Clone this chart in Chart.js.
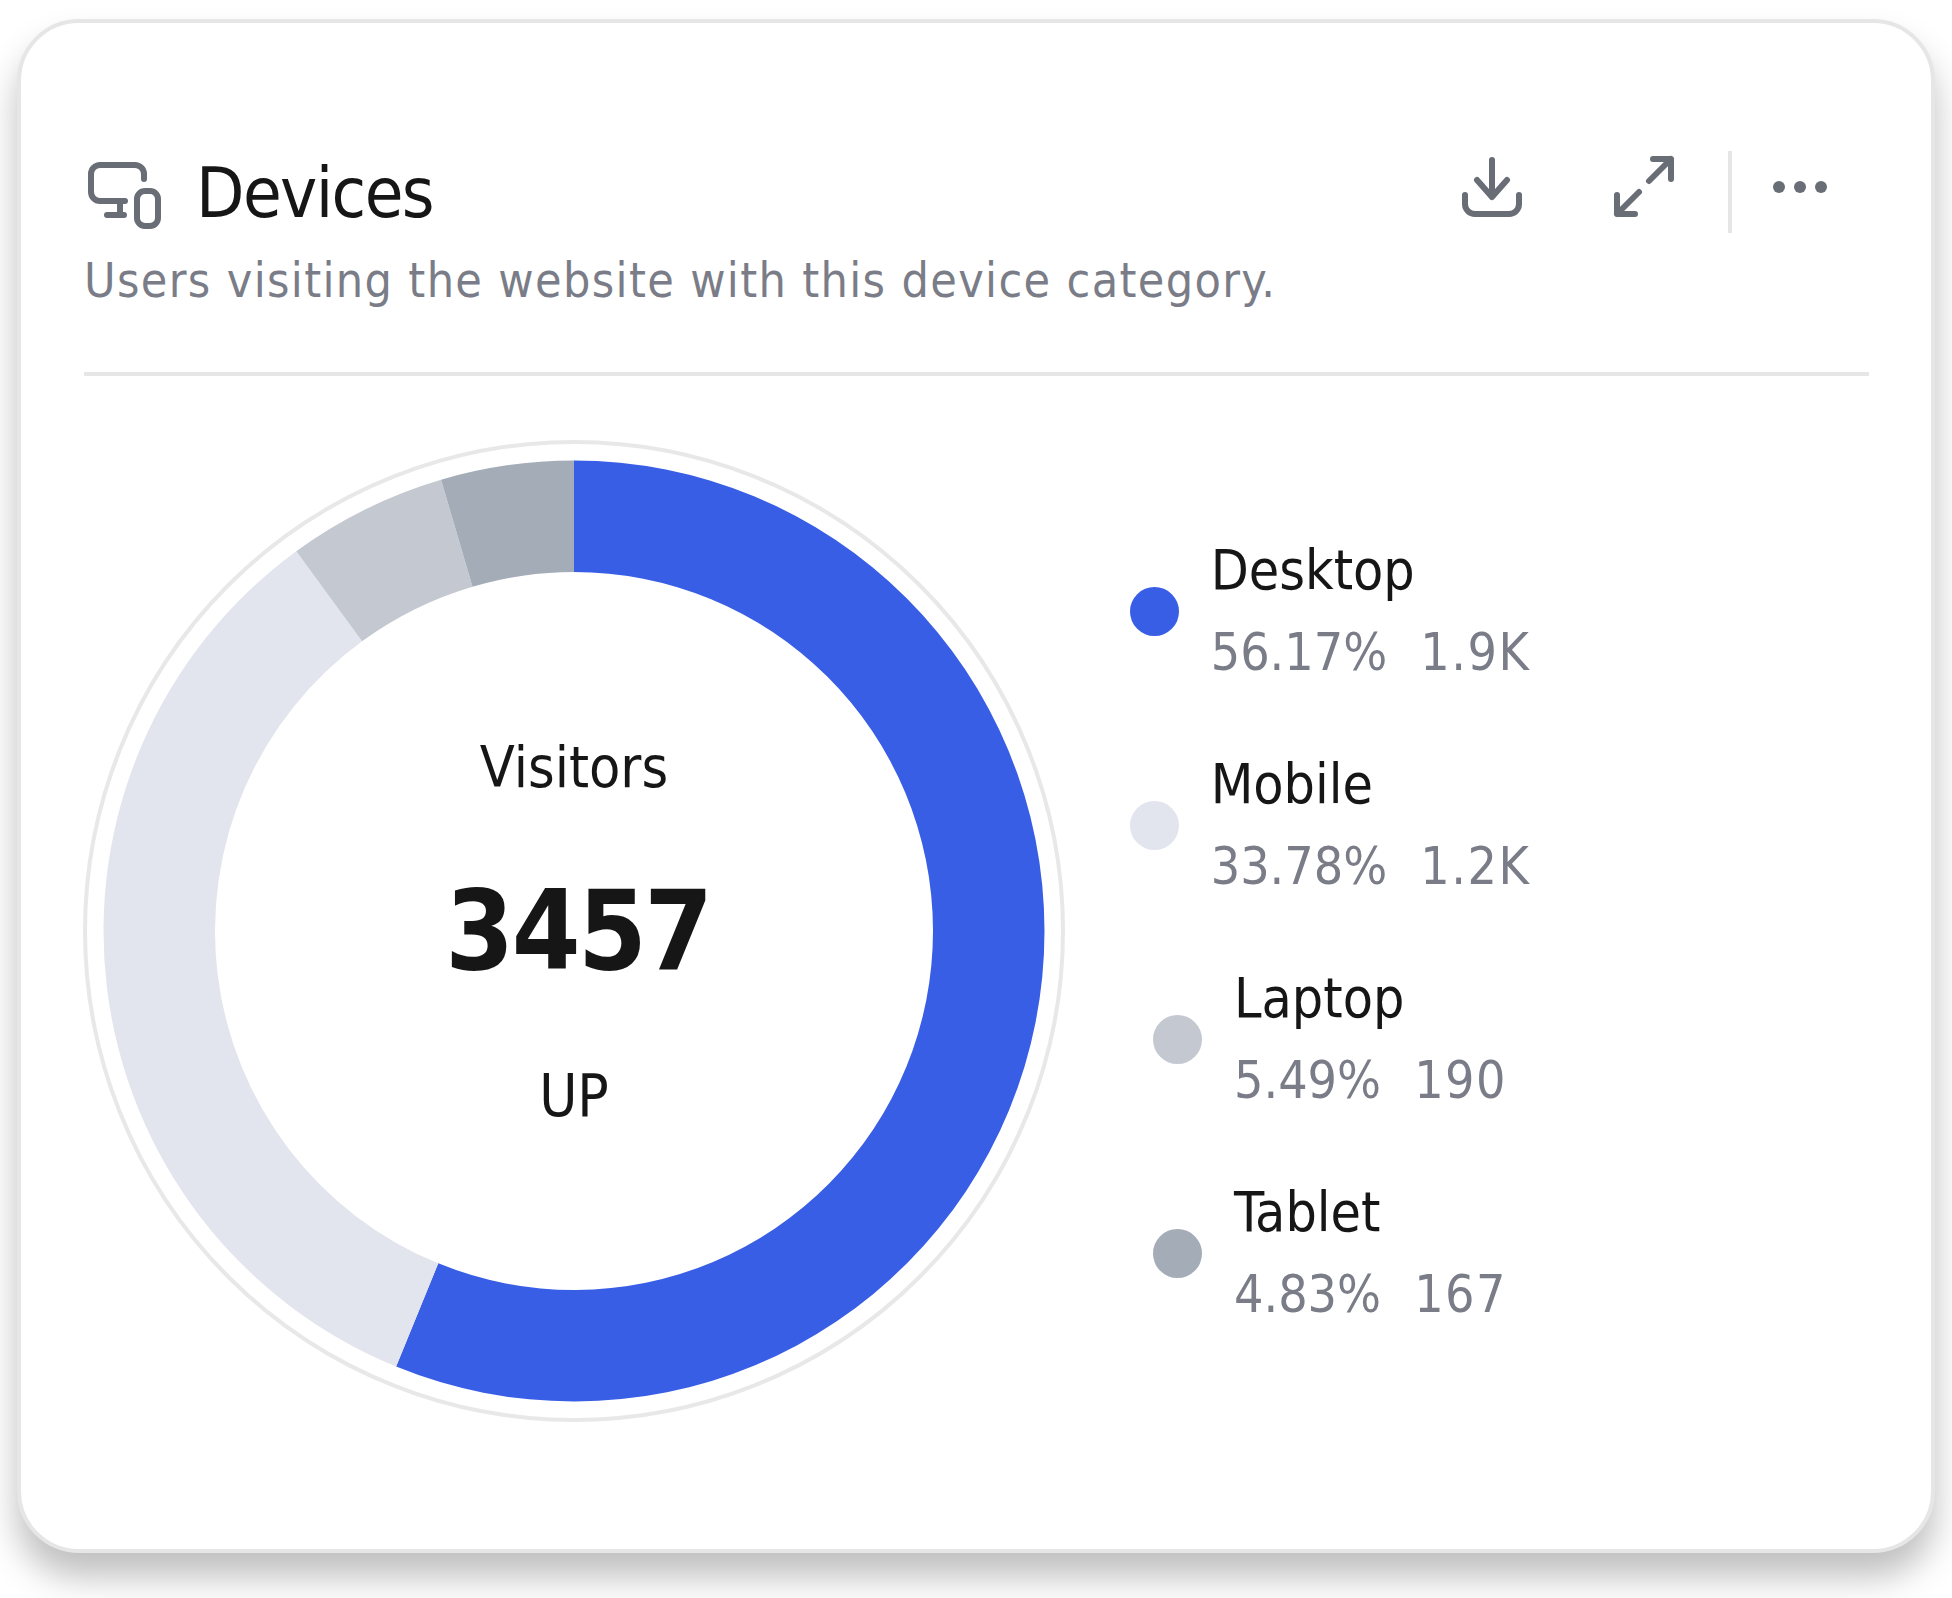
<!DOCTYPE html>
<html>
<head>
<meta charset="utf-8">
<script src="https://cdn.jsdelivr.net/npm/chart.js@4/dist/chart.umd.min.js"></script>
<style>
html, body { margin: 0; background: #fff; }
body { width: 1952px; height: 1598px; position: relative; overflow: hidden; font-family: "DejaVu Sans Condensed", "DejaVu Sans", sans-serif; font-stretch: condensed; color: #161616; }
#card { position: absolute; left: 17px; top: 19px; width: 1910px; height: 1526px; background: #fff; border: 4px solid #e6e6e6; border-radius: 62px; box-shadow: 0 24px 34px rgba(0,0,0,.25); }
#icons { position: absolute; left: 0; top: 0; }
.txt { position: absolute; white-space: nowrap; }
#title { left: 196px; top: 151px; font-size: 70px; line-height: 84px; letter-spacing: -1.6px; }
#subtitle { left: 84px; top: 250px; font-size: 48px; line-height: 60px; color: #7a7d87; letter-spacing: 1.35px; }
#divider { position: absolute; left: 84px; top: 372px; width: 1785px; height: 4px; background: #e6e6e6; }
#sep { position: absolute; left: 1728px; top: 151px; width: 4px; height: 82px; background: #e6e6e6; }
#chartbox { position: absolute; left: 74px; top: 431px; width: 1000px; height: 1000px; }
.center { left: 74px; width: 1000px; text-align: center; }
#c1 { top: 732px; font-size: 57px; line-height: 70px; }
#c2 { top: 861px; left: 78px; font-size: 110px; line-height: 140px; font-weight: bold; letter-spacing: -2.5px; }
#c3 { top: 1061px; font-size: 58px; line-height: 70px; }
#legend { position: absolute; left: 1030px; top: 504px; width: 600px; display: flex; flex-direction: column; align-items: center; }
.row { display: flex; align-items: center; height: 214px; }
.dot { width: 49px; height: 49px; border-radius: 50%; margin-right: 32px; }
.name { font-size: 55px; line-height: 70px; }
.sub { font-size: 51.5px; line-height: 70px; margin-top: 12px; color: #7a7d87; }
.sub span + span { margin-left: 33px; letter-spacing: 1.5px; }
</style>
</head>
<body>
<div id="card"></div>
<svg id="icons" width="1952" height="300" fill="none" stroke="#686d76" stroke-width="6" stroke-linecap="round" stroke-linejoin="round">
  <path d="M144 179V174a9 9 0 0 0-9-9H100a9 9 0 0 0-9 9V192a9 9 0 0 0 9 9H125M120 201V215M107 215H124"/>
  <rect x="137" y="191" width="21" height="35" rx="8"/>
  <path d="M1492 160V197M1477 180L1492 197L1507 180M1465 195V204a10 10 0 0 0 10 10H1509a10 10 0 0 0 10-10V195"/>
  <path d="M1653 159H1671V179M1671 159L1649 181M1639 192L1617 214M1617 195V214H1635"/>
  <g fill="#686d76" stroke="none"><circle cx="1779" cy="187" r="6"/><circle cx="1800" cy="187" r="6"/><circle cx="1821" cy="187" r="6"/></g>
</svg>
<div id="sep"></div>
<div class="txt" id="title">Devices</div>
<div class="txt" id="subtitle">Users visiting the website with this device category.</div>
<div id="divider"></div>
<div id="chartbox"><canvas id="chart" width="1000" height="1000"></canvas></div>
<div class="txt center" id="c1"></div>
<div class="txt center" id="c2"></div>
<div class="txt center" id="c3"></div>
<div id="legend"></div>
<script>
const categories = ['Desktop', 'Mobile', 'Laptop', 'Tablet'];
// share of the ring as drawn, tablet is what is left over in the picture
const sliceShares = [56.17, 33.78, 5.49, 4.56];
const percentLabels = ['56.17%', '33.78%', '5.49%', '4.83%'];
const countLabels = ['1.9K', '1.2K', '190', '167'];
const sliceColors = ['#395ee6', '#e2e5ed', '#c4c9d1', '#a4acb7'];
const centerTop = 'Visitors';
const centerTotal = '3457';
const centerBottom = 'UP';

document.getElementById('c1').textContent = centerTop;
document.getElementById('c2').textContent = centerTotal;
document.getElementById('c3').textContent = centerBottom;

let html = '';
categories.forEach((name, i) => {
    html += `<div class="row">
        <div class="dot" style="background:${sliceColors[i]}"></div>
        <div>
            <div class="name">${name}</div>
            <div class="sub"><span>${percentLabels[i]}</span><span>${countLabels[i]}</span></div>
        </div>
    </div>`;
});
document.getElementById('legend').innerHTML = html;

// thin ring just outside the doughnut
const outerRing = {
    id: 'outerRing',
    afterDatasetsDraw(chart) {
        const arc = chart.getDatasetMeta(0).data[0];
        const ctx = chart.ctx;
        ctx.save();
        ctx.beginPath();
        ctx.arc(arc.x, arc.y, arc.outerRadius + 18.5, 0, Math.PI * 2);
        ctx.lineWidth = 4;
        ctx.strokeStyle = '#e8e8e8';
        ctx.stroke();
        ctx.restore();
    }
};

new Chart(document.getElementById('chart').getContext('2d'), {
    type: 'doughnut',
    data: {
        labels: categories,
        datasets: [{
            data: sliceShares,
            backgroundColor: sliceColors,
            borderWidth: 0
        }]
    },
    options: {
        responsive: false,
        animation: false,
        cutout: '76.3%',
        layout: { padding: 29.5 },
        events: [],
        plugins: { legend: { display: false }, tooltip: { enabled: false } }
    },
    plugins: [outerRing]
});
</script>
</body>
</html>
